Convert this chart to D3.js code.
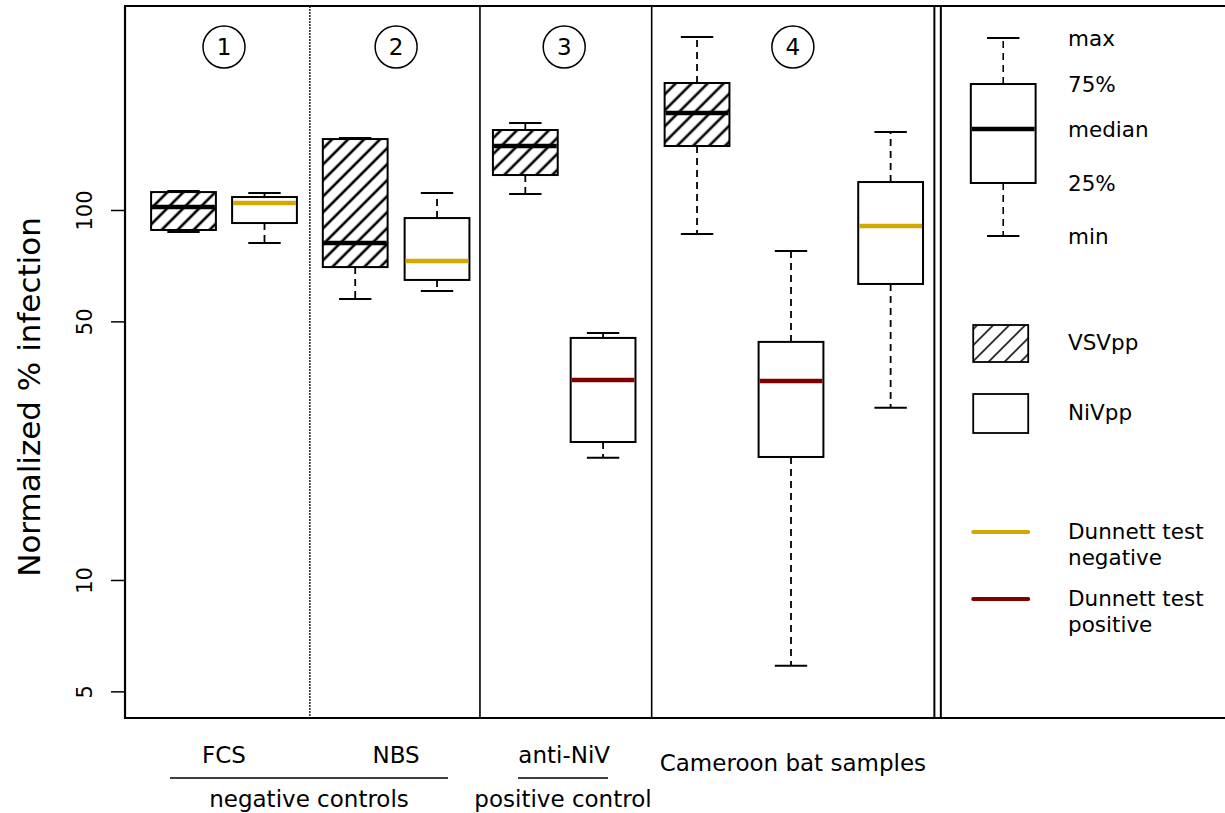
<!DOCTYPE html>
<html>
<head>
<meta charset="utf-8">
<script src="https://cdn.jsdelivr.net/npm/d3@7"></script>
<style>
  html, body { margin: 0; padding: 0; background: #fff; }
  svg { display: block; font-family: "DejaVu Sans", sans-serif; }
</style>
</head>
<body>
<svg id="chart" width="1225" height="813"></svg>
<script>
// Box statistics (normalized % infection) per serum group and pseudotype
const groups   = ["FCS", "FCS", "NBS", "NBS", "anti-NiV", "anti-NiV", "Cameroon", "Cameroon", "Cameroon"];
const series   = ["VSVpp", "NiVpp", "VSVpp", "NiVpp", "VSVpp", "NiVpp", "VSVpp", "NiVpp", "NiVpp"];
const slots    = [1, 2, 3.12, 4.13, 5.22, 6.18, 7.34, 8.5, 9.73];
const mins     = [87.2, 81.4, 57.5, 60.4, 110.5, 21.4, 86.1, 5.86, 29.2];
const q1s      = [88.3, 92.2, 70.1, 64.7, 124.3, 23.6, 148.9, 21.5, 63.1];
const medians  = [101.9, 104.5, 81.4, 72.8, 148.9, 34.7, 182.9, 34.5, 90.5];
const q3s      = [111.8, 108.4, 155.5, 95.1, 164.5, 45.1, 220.4, 44.0, 119.0];
const maxs     = [112.5, 111.2, 156.5, 111.2, 171.8, 46.5, 293.5, 77.5, 162.5];
const dunnett  = ["", "negative", "", "negative", "", "positive", "", "positive", "negative"];

const yTicks = [5, 10, 50, 100];
const panelNumbers = ["1", "2", "3", "4"];
const panelGroups  = ["FCS", "NBS", "anti-NiV", "Cameroon"];
const groupLabels  = [
  { text: "FCS", group: "FCS" },
  { text: "NBS", group: "NBS" },
  { text: "anti-NiV", group: "anti-NiV" },
  { text: "Cameroon bat samples", group: "Cameroon" }
];
const superLabels = [
  { text: "negative controls", span: [170, 448] },
  { text: "positive control", span: [518, 608] }
];
// schematic box used in the key
const keyStats  = { min: 85.1, q1: 118.3, median: 165.5, q3: 219, max: 291.7 };
const keyLabels = ["max", "75%", "median", "25%", "min"];

const colors = { negative: "#d4a800", positive: "#800000" };

const svg = d3.select("#chart");
const W = 1225;

// scales
const y = d3.scaleLog().domain([4.236, 355.9]).range([718, 6]);
const x = d3.scaleLinear().domain([1, 2]).range([183.5, 264.5]);
const boxW = x(0.8) - x(0);
const capW = x(0.4) - x(0);
const frameLeft = x(0.278);

// hatching patterns
const defs = svg.append("defs");
function hatch(id, w) {
  const p = defs.append("pattern")
    .attr("id", id).attr("patternUnits", "userSpaceOnUse")
    .attr("width", 11.3).attr("height", 11.3)
    .attr("patternTransform", "rotate(45)");
  p.append("line").attr("x1", 5.65).attr("y1", -1).attr("x2", 5.65).attr("y2", 13)
    .attr("stroke", "#000").attr("stroke-width", w);
}
hatch("hatchMain", 2.6);
hatch("hatchKey", 1.5);

// panel dividers
const dividers = [
  { p: 2.56, dash: "2,1", w: 1.3 },
  { p: 4.66, dash: null, w: 1.6 },
  { p: 6.78, dash: null, w: 1.6 },
  { p: 10.27, dash: null, w: 2 },
  { p: 10.35, dash: null, w: 2 }
];
svg.append("g").selectAll("line").data(dividers).join("line")
  .attr("x1", d => x(d.p)).attr("x2", d => x(d.p))
  .attr("y1", y.range()[1]).attr("y2", y.range()[0])
  .attr("stroke", "#000").attr("stroke-width", d => d.w)
  .attr("stroke-dasharray", d => d.dash);

// frame
svg.append("path")
  .attr("d", `M${W + 5},${y.range()[1]} H${frameLeft} V${y.range()[0]} H${W + 5}`)
  .attr("fill", "none").attr("stroke", "#000").attr("stroke-width", 2.2);

// y axis
const yAxis = svg.append("g").attr("transform", `translate(${frameLeft},0)`)
  .call(d3.axisLeft(y).tickValues(yTicks).tickSize(14).tickFormat(d3.format("d")));
yAxis.select(".domain").remove();
yAxis.selectAll(".tick line").attr("stroke", "#000").attr("stroke-width", 1.5);
yAxis.selectAll(".tick text")
  .attr("x", null).attr("dy", null)
  .attr("transform", "translate(-33,0) rotate(-90)")
  .attr("text-anchor", "middle")
  .attr("font-size", 21).attr("font-family", "DejaVu Sans").attr("fill", "#000");

svg.append("text")
  .attr("transform", "translate(40,397) rotate(-90)")
  .attr("text-anchor", "middle").attr("font-size", 31).attr("fill", "#000")
  .text("Normalized % infection");

// boxes
const boxes = slots.map((s, i) => ({
  s, series: series[i], min: mins[i], q1: q1s[i], med: medians[i], q3: q3s[i], max: maxs[i],
  dunnett: dunnett[i]
}));

function drawBox(g, d, hatchId, whiskerW) {
  const cx = x(d.s);
  const dash = "7,5";
  // whiskers
  g.append("line").attr("x1", cx).attr("x2", cx).attr("y1", y(d.q3)).attr("y2", y(d.max))
    .attr("stroke", "#000").attr("stroke-width", whiskerW).attr("stroke-dasharray", dash);
  g.append("line").attr("x1", cx).attr("x2", cx).attr("y1", y(d.q1)).attr("y2", y(d.min))
    .attr("stroke", "#000").attr("stroke-width", whiskerW).attr("stroke-dasharray", dash);
  [d.max, d.min].forEach(v => {
    g.append("line").attr("x1", cx - capW / 2).attr("x2", cx + capW / 2)
      .attr("y1", y(v)).attr("y2", y(v)).attr("stroke", "#000").attr("stroke-width", 2);
  });
  // body
  const rect = { x: cx - boxW / 2, y: y(d.q3), w: boxW, h: y(d.q1) - y(d.q3) };
  g.append("rect").attr("x", rect.x).attr("y", rect.y).attr("width", rect.w).attr("height", rect.h)
    .attr("fill", "#fff");
  if (hatchId) {
    g.append("rect").attr("x", rect.x).attr("y", rect.y).attr("width", rect.w).attr("height", rect.h)
      .attr("fill", `url(#${hatchId})`);
  }
  g.append("rect").attr("x", rect.x).attr("y", rect.y).attr("width", rect.w).attr("height", rect.h)
    .attr("fill", "none").attr("stroke", "#000").attr("stroke-width", 2);
  // median
  const mc = d.dunnett ? colors[d.dunnett] : "#000";
  g.append("line").attr("x1", rect.x + 1).attr("x2", rect.x + rect.w - 1)
    .attr("y1", y(d.med)).attr("y2", y(d.med))
    .attr("stroke", mc).attr("stroke-width", 4.5);
}

const gBoxes = svg.append("g");
boxes.forEach(d => drawBox(gBoxes.append("g"), d, d.series === "VSVpp" ? "hatchMain" : null, 1.8));

// panel numbers
const groupCenter = name => d3.mean(slots.filter((s, i) => groups[i] === name));
const gNum = svg.append("g");
panelNumbers.forEach((n, i) => {
  const cx = x(groupCenter(panelGroups[i]));
  gNum.append("circle").attr("cx", cx).attr("cy", 47).attr("r", 21)
    .attr("fill", "none").attr("stroke", "#000").attr("stroke-width", 1.5);
  gNum.append("text").attr("x", cx).attr("y", 47).attr("dy", "0.36em")
    .attr("text-anchor", "middle").attr("font-size", 23).text(n);
});

// group labels beneath the plot
const gLab = svg.append("g").attr("font-size", 23).attr("fill", "#000");
groupLabels.forEach(l => {
  gLab.append("text").attr("x", x(groupCenter(l.group)))
    .attr("y", l.group === "Cameroon" ? 771 : 763)
    .attr("text-anchor", "middle").text(l.text);
});
superLabels.forEach(l => {
  const [a, b] = l.span;
  gLab.append("line").attr("x1", a).attr("x2", b).attr("y1", 778).attr("y2", 778)
    .attr("stroke", "#000").attr("stroke-width", 1.3);
  gLab.append("text").attr("x", (a + b) / 2).attr("y", 807)
    .attr("text-anchor", "middle").text(l.text);
});

// key
const keySlot = 11.12;
const gKey = svg.append("g");
drawBox(gKey.append("g"), { s: keySlot, min: keyStats.min, q1: keyStats.q1, med: keyStats.median,
  q3: keyStats.q3, max: keyStats.max, dunnett: "" }, null, 1.6);
const keyVals = [keyStats.max, keyStats.q3, keyStats.median, keyStats.q1, keyStats.min];
const keyTextX = x(11.92);
keyLabels.forEach((t, i) => {
  gKey.append("text").attr("x", keyTextX).attr("y", y(keyVals[i])).attr("dy", "0.36em")
    .attr("font-size", 21.5).text(t);
});

const swX = x(keySlot) - 30, swW = 55;
gKey.append("rect").attr("x", swX).attr("y", 325).attr("width", swW).attr("height", 37)
  .attr("fill", "url(#hatchKey)").attr("stroke", "#000").attr("stroke-width", 1.8);
gKey.append("text").attr("x", keyTextX).attr("y", 350).attr("font-size", 21.5).text("VSVpp");
gKey.append("rect").attr("x", swX).attr("y", 394).attr("width", swW).attr("height", 39)
  .attr("fill", "#fff").attr("stroke", "#000").attr("stroke-width", 1.8);
gKey.append("text").attr("x", keyTextX).attr("y", 420).attr("font-size", 21.5).text("NiVpp");

const dunnettKey = [
  { c: colors.negative, y: 532, lines: ["Dunnett test", "negative"] },
  { c: colors.positive, y: 599, lines: ["Dunnett test", "positive"] }
];
dunnettKey.forEach(k => {
  gKey.append("line").attr("x1", swX).attr("x2", swX + swW).attr("y1", k.y).attr("y2", k.y)
    .attr("stroke", k.c).attr("stroke-width", 4).attr("stroke-linecap", "round");
  k.lines.forEach((t, j) => {
    gKey.append("text").attr("x", keyTextX).attr("y", k.y + 7 + j * 26)
      .attr("font-size", 21.5).text(t);
  });
});
</script>
</body>
</html>
